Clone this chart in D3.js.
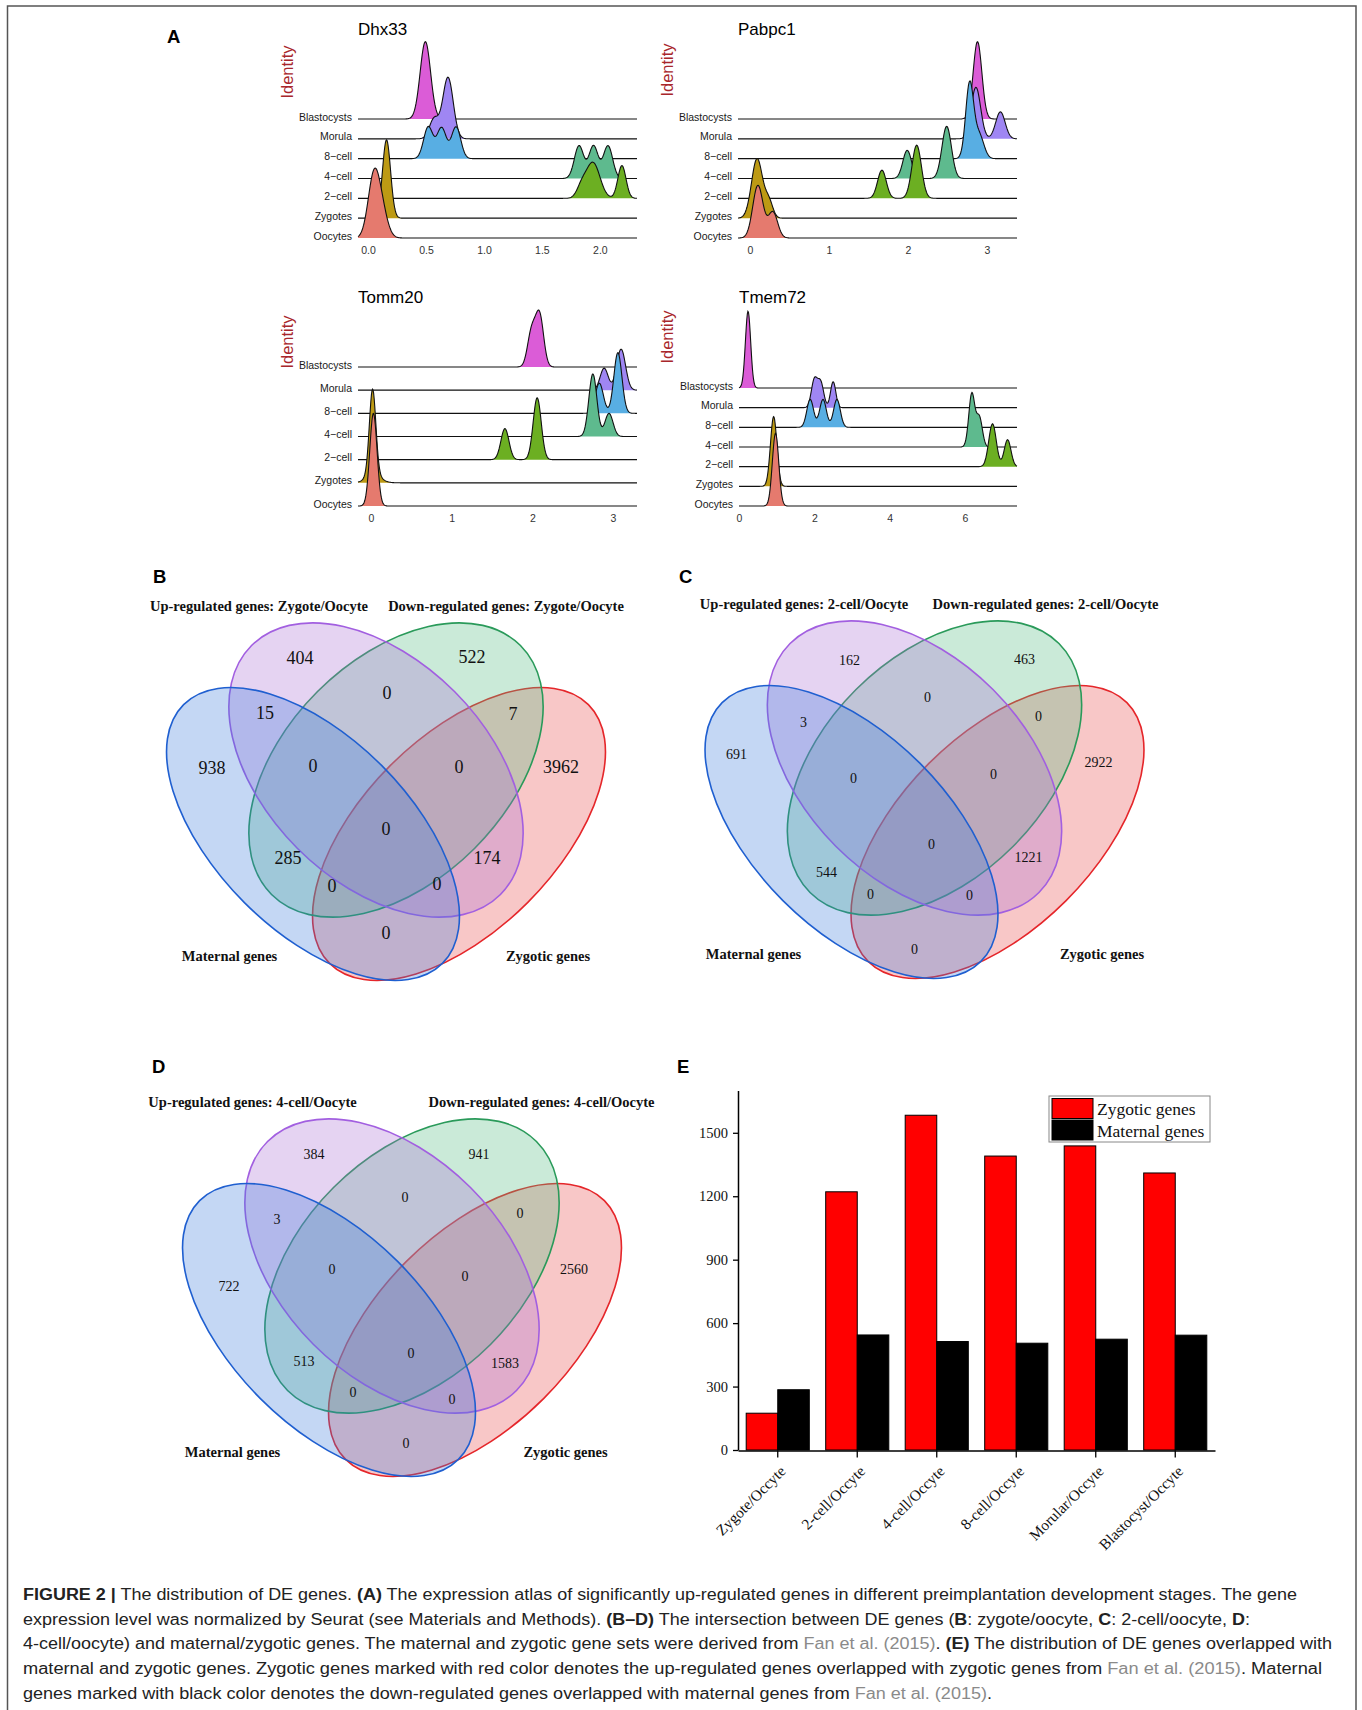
<!DOCTYPE html>
<html>
<head>
<meta charset="utf-8">
<script src="https://cdn.jsdelivr.net/npm/d3@7"></script>
<style>
  body { margin: 0; background: #fff; }
  svg { display: block; }
</style>
</head>
<body>
<div id="fig"></div>
<script>
// ---------- data ----------
var stages = ["Oocytes", "Zygotes", "2\u2212cell", "4\u2212cell", "8\u2212cell", "Morula", "Blastocysts"];
var stageColors = ["#E57A6E", "#BD9A14", "#6CAF22", "#5EBA8E", "#58AEE3", "#9F86F3", "#DB5CD7"];

// ridge peaks per stage: [expression, height (rows), spread]
var dhx33 = [
  [[0.05, 3.0, 0.05], [0.12, 1.2, 0.05]],
  [[0.16, 3.95, 0.035]],
  [[1.84, 0.5, 0.04], [1.94, 1.8, 0.06], [2.19, 1.65, 0.035]],
  [[1.82, 1.65, 0.04], [1.945, 1.65, 0.04], [2.07, 1.65, 0.04]],
  [[0.52, 1.6, 0.04], [0.635, 1.55, 0.04], [0.76, 1.6, 0.04]],
  [[0.57, 1.0, 0.04], [0.69, 3.1, 0.045]],
  [[0.495, 3.9, 0.045]]
];
var pabpc1 = [
  [[0.1, 2.65, 0.065], [0.29, 1.3, 0.06]],
  [[0.09, 3.0, 0.07], [0.24, 0.8, 0.05]],
  [[1.67, 1.42, 0.055], [2.11, 2.68, 0.06]],
  [[1.99, 1.42, 0.055], [2.49, 2.63, 0.06]],
  [[2.78, 3.75, 0.05], [2.9, 1.2, 0.06]],
  [[2.86, 2.6, 0.06], [3.17, 1.36, 0.06]],
  [[2.88, 3.9, 0.055]]
];
var tomm20 = [
  [[0.03, 4.0, 0.045]],
  [[0.02, 3.7, 0.04], [0.03, 0.35, 0.09]],
  [[1.66, 1.34, 0.05], [2.06, 2.67, 0.05]],
  [[2.75, 2.7, 0.05], [2.95, 1.0, 0.05]],
  [[2.83, 1.3, 0.05], [3.06, 2.62, 0.05]],
  [[2.89, 0.95, 0.05], [3.1, 1.77, 0.055]],
  [[1.99, 1.5, 0.05], [2.09, 2.2, 0.05]]
];
var tmem72 = [
  [[0.97, 3.7, 0.085]],
  [[0.92, 3.55, 0.085]],
  [[6.73, 2.18, 0.1], [7.13, 1.37, 0.09]],
  [[6.18, 2.7, 0.08], [6.38, 1.5, 0.08]],
  [[1.89, 1.42, 0.09], [2.23, 1.42, 0.09], [2.6, 1.42, 0.09]],
  [[2.0, 1.4, 0.08], [2.17, 1.25, 0.08], [2.5, 1.32, 0.07]],
  [[0.24, 3.9, 0.07]]
];
var dhx33Ticks = [0, 0.5, 1, 1.5, 2];
var pabpc1Ticks = [0, 1, 2, 3];
var tomm20Ticks = [0, 1, 2, 3];
var tmem72Ticks = [0, 2, 4, 6];

// venn regions: M maternal, U up-regulated, D down-regulated, Z zygotic
var regionKeys = ["U", "D", "UD", "MU", "DZ", "M", "MUD", "UDZ", "Z", "MUDZ", "MD", "UZ", "MDZ", "MUZ", "MZ"];
var vennB = [404, 522, 0, 15, 7, 938, 0, 0, 3962, 0, 285, 174, 0, 0, 0];
var vennC = [162, 463, 0, 3, 0, 691, 0, 0, 2922, 0, 544, 1221, 0, 0, 0];
var vennD = [384, 941, 0, 3, 0, 722, 0, 0, 2560, 0, 513, 1583, 0, 0, 0];
var vennPairs = ["Zygote/Oocyte", "2-cell/Oocyte", "4-cell/Oocyte"];

// bar chart
var barCats = ["Zygote/Occyte", "2-cell/Occyte", "4-cell/Occyte", "8-cell/Occyte", "Morular/Occyte", "Blastocyst/Occyte"];
var zygoticVals = [174, 1221, 1583, 1390, 1438, 1310];
var maternalVals = [285, 544, 513, 505, 524, 543];
var barTicks = [0, 300, 600, 900, 1200, 1500];
var barSeries = ["Zygotic genes", "Maternal genes"];

// ---------- page ----------
var W = 1362, H = 1710;
var sans = "'Liberation Sans', Arial, Helvetica, sans-serif";
var serif = "'Liberation Serif', 'Times New Roman', Times, serif";

var svg = d3.select("#fig").append("svg")
    .attr("width", W)
    .attr("height", H);

svg.append("rect").attr("width", W).attr("height", H).attr("fill", "#fff");
svg.append("path")
    .attr("d", "M7.5,1715V6H1356V1715")
    .attr("fill", "none")
    .attr("stroke", "#555")
    .attr("stroke-width", 1.5);

function panelLetter(t, x, y) {
  svg.append("text")
      .attr("x", x).attr("y", y)
      .attr("font-family", sans)
      .attr("font-weight", "bold")
      .attr("font-size", 18.5)
      .text(t);
}
panelLetter("A", 167, 43);
panelLetter("B", 153, 583);
panelLetter("C", 679, 583);
panelLetter("D", 152, 1073);
panelLetter("E", 677, 1073);

// ---------- A: ridge plots ----------
var ridges = [
  {gene: "Dhx33", peaks: dhx33, ticks: dhx33Ticks, fmt: d3.format(".1f"), domain: [-0.086, 2.32], x: [358, 637], rows: [238, 119], tickY: 254, titleY: 35, identX: 287, identY: 72},
  {gene: "Pabpc1", peaks: pabpc1, ticks: pabpc1Ticks, fmt: d3.format("d"), domain: [-0.152, 3.38], x: [738, 1017], rows: [238, 119], tickY: 254, titleY: 35, identX: 667, identY: 70},
  {gene: "Tomm20", peaks: tomm20, ticks: tomm20Ticks, fmt: d3.format("d"), domain: [-0.161, 3.297], x: [358, 637], rows: [506, 367], tickY: 522, titleY: 303, identX: 287, identY: 342},
  {gene: "Tmem72", peaks: tmem72, ticks: tmem72Ticks, fmt: d3.format("d"), domain: [0, 7.38], x: [739, 1017], rows: [506, 388], tickY: 522, titleY: 303, identX: 667, identY: 337}
];

function density(peaks, v) {
  return d3.sum(peaks, function(p) {
    return p[1] * Math.exp(-((v - p[0]) * (v - p[0])) / (2 * p[2] * p[2]));
  });
}

ridges.forEach(function(r) {
  var g = svg.append("g");
  var x = d3.scaleLinear().domain(r.domain).range(r.x);
  var row = d3.scalePoint().domain(stages).range(r.rows);
  var spacing = (r.rows[0] - r.rows[1]) / (stages.length - 1);
  var h = d3.scaleLinear().domain([0, 1]).range([0, spacing]);
  var grid = d3.range(0, 501).map(function(i) {
    return r.domain[0] + (r.domain[1] - r.domain[0]) * i / 500;
  });

  // top row first so lower rows sit in front
  stages.slice().reverse().forEach(function(s) {
    var idx = stages.indexOf(s);
    var base = row(s);
    var pts = grid.map(function(v) { return [v, density(r.peaks[idx], v)]; });
    g.append("path")
        .datum(pts)
        .attr("fill", stageColors[idx])
        .attr("d", d3.area()
          .x(function(d) { return x(d[0]); })
          .y0(base)
          .y1(function(d) { return base - h(d[1]); }));
    g.append("path")
        .datum(pts)
        .attr("fill", "none")
        .attr("stroke", "#111")
        .attr("stroke-width", 1.1)
        .attr("d", d3.line()
          .x(function(d) { return x(d[0]); })
          .y(function(d) { return base - h(d[1]); }));
  });

  g.selectAll(".ylab")
    .data(stages)
    .enter().append("text")
      .attr("x", r.x[0] - 6)
      .attr("y", function(d) { return row(d) + 1.5; })
      .attr("text-anchor", "end")
      .attr("font-family", sans)
      .attr("font-size", 10.5)
      .attr("fill", "#1a1a1a")
      .text(function(d) { return d; });

  var ax = g.append("g")
      .attr("transform", "translate(0," + (r.tickY - 8) + ")")
      .call(d3.axisBottom(x).tickValues(r.ticks).tickFormat(r.fmt).tickSize(0).tickPadding(0));
  ax.select(".domain").remove();
  ax.selectAll("text")
      .attr("y", 8)
      .attr("dy", 0)
      .attr("font-family", sans)
      .attr("font-size", 10.5)
      .attr("fill", "#333");

  g.append("text")
      .attr("x", r.x[0])
      .attr("y", r.titleY)
      .attr("font-family", sans)
      .attr("font-size", 17)
      .text(r.gene);

  g.append("text")
      .attr("transform", "translate(" + r.identX + "," + r.identY + ") rotate(-90)")
      .attr("dy", "0.35em")
      .attr("text-anchor", "middle")
      .attr("font-family", sans)
      .attr("font-size", 16.5)
      .attr("fill", "#A8262B")
      .text("Identity");
});

// ---------- B-D: venn diagrams ----------
// red first, blue last: the centre reads bluish grey in the original
var setOrder = ["Z", "D", "U", "M"];
var ellipseShape = {
  M: {dx: -73, dy: 0, rx: 183, ry: 97, rot: 45, fill: "#3D7CDC", stroke: "#1F5FD0"},
  U: {dx: -10, dy: -64, rx: 176, ry: 111, rot: 45, fill: "#AA6ED4", stroke: "#A25FE0"},
  D: {dx: 10, dy: -64, rx: 176, ry: 111, rot: -45, fill: "#50B97D", stroke: "#2A9A5A"},
  Z: {dx: 73, dy: 0, rx: 183, ry: 97, rot: -45, fill: "#E84444", stroke: "#E5262A"}
};

var labelPosB = [[-86,-176],[86,-177],[1,-141],[-121,-121],[127,-120],[-174,-66],[-73,-68],[73,-67],[175,-67],[0,-5],[-98,24],[101,24],[-54,52],[51,50],[0,99]];
var labelPosC = [[-75,-172],[100,-173],[3,-135],[-121,-110],[114,-116],[-188,-78],[-71,-54],[69,-58],[174,-70],[7,12],[-98,40],[104,25],[-54,62],[45,63],[-10,117]];
var labelPosD = [[-88,-176],[77,-176],[3,-133],[-125,-111],[118,-117],[-173,-44],[-70,-61],[63,-54],[172,-61],[9,23],[-98,31],[103,33],[-49,62],[50,69],[4,113]];

var vennPanels = [
  {counts: vennB, pair: vennPairs[0], cx: 386, cy: 834, fs: 18, pos: labelPosB, titleDx: [-127, 120], footDx: [-156.5, 162]},
  {counts: vennC, pair: vennPairs[1], cx: 924.5, cy: 832, fs: 14, pos: labelPosC, titleDx: [-120.5, 121], footDx: [-171, 177.5]},
  {counts: vennD, pair: vennPairs[2], cx: 402, cy: 1330, fs: 14, pos: labelPosD, titleDx: [-149.5, 139.5], footDx: [-169.5, 163.5]}
];

vennPanels.forEach(function(p) {
  var g = svg.append("g").attr("transform", "translate(" + p.cx + "," + p.cy + ")");

  g.selectAll("ellipse")
    .data(setOrder)
    .enter().append("ellipse")
      .attr("transform", function(k) {
        var e = ellipseShape[k];
        return "translate(" + e.dx + "," + e.dy + ") rotate(" + e.rot + ")";
      })
      .attr("rx", function(k) { return ellipseShape[k].rx; })
      .attr("ry", function(k) { return ellipseShape[k].ry; })
      .attr("fill", function(k) { return ellipseShape[k].fill; })
      .attr("fill-opacity", 0.3)
      .attr("stroke", function(k) { return ellipseShape[k].stroke; })
      .attr("stroke-width", 1.6);

  g.selectAll(".count")
    .data(regionKeys)
    .enter().append("text")
      .attr("x", function(d, i) { return p.pos[i][0]; })
      .attr("y", function(d, i) { return p.pos[i][1]; })
      .attr("dy", "0.35em")
      .attr("text-anchor", "middle")
      .attr("font-family", serif)
      .attr("font-size", p.fs)
      .attr("fill", "#111")
      .text(function(d, i) { return p.counts[i]; });

  var names = [
    ["Up-regulated genes: " + p.pair, p.titleDx[0], -228],
    ["Down-regulated genes: " + p.pair, p.titleDx[1], -228],
    ["Maternal genes", p.footDx[0], 122],
    ["Zygotic genes", p.footDx[1], 122]
  ];
  g.selectAll(".setname")
    .data(names)
    .enter().append("text")
      .attr("x", function(d) { return d[1]; })
      .attr("y", function(d) { return d[2]; })
      .attr("dy", "0.35em")
      .attr("text-anchor", "middle")
      .attr("font-family", serif)
      .attr("font-weight", "bold")
      .attr("font-size", 14.5)
      .attr("fill", "#111")
      .text(function(d) { return d[0]; });
});

// ---------- E: bar chart ----------
var xE = d3.scaleBand().domain(barCats).range([738, 1215]);
var sub = d3.scaleBand().domain(barSeries).range([0, xE.bandwidth()]).paddingOuter(0.26);
var yE = d3.scaleLinear().domain([0, 1700]).range([1450, 1090.5]);
var barColors = {"Zygotic genes": "#FF0000", "Maternal genes": "#000000"};

var barRows = barCats.map(function(c, i) {
  return {cat: c, values: [{s: barSeries[0], v: zygoticVals[i]}, {s: barSeries[1], v: maternalVals[i]}]};
});

var gE = svg.append("g");
gE.selectAll(".grp")
  .data(barRows)
  .enter().append("g")
    .attr("transform", function(d) { return "translate(" + xE(d.cat) + ",0)"; })
  .selectAll("rect")
  .data(function(d) { return d.values; })
  .enter().append("rect")
    .attr("x", function(d) { return sub(d.s); })
    .attr("width", sub.bandwidth())
    .attr("y", function(d) { return yE(d.v); })
    .attr("height", function(d) { return yE(0) - yE(d.v); })
    .attr("fill", function(d) { return barColors[d.s]; })
    .attr("stroke", "#000")
    .attr("stroke-width", 1);

var yAx = gE.append("g")
    .attr("transform", "translate(738,0)")
    .call(d3.axisLeft(yE).tickValues(barTicks).tickFormat(d3.format("d")).tickSize(5).tickPadding(5).tickSizeOuter(0));
yAx.select(".domain").attr("stroke-width", 1.5);
yAx.selectAll("line").attr("stroke-width", 1.3);
yAx.selectAll("text").attr("font-family", serif).attr("font-size", 14.5).attr("fill", "#111");

var xAx = gE.append("g")
    .attr("transform", "translate(0,1450.5)")
    .call(d3.axisBottom(xE).tickSize(7).tickSizeOuter(0));
xAx.select(".domain").attr("stroke-width", 1.5);
xAx.selectAll("line").attr("stroke-width", 1.3);
xAx.selectAll("text")
    .attr("x", 0).attr("y", 0).attr("dy", "0.35em")
    .attr("transform", "translate(5,18) rotate(-45)")
    .attr("text-anchor", "end")
    .attr("font-family", serif)
    .attr("font-size", 15.3)
    .attr("fill", "#111");

var legend = gE.append("g").attr("transform", "translate(1049,1096)");
legend.append("rect")
    .attr("width", 161).attr("height", 46)
    .attr("fill", "#fff").attr("stroke", "#888").attr("stroke-width", 1);
legend.selectAll(".sw")
  .data(barSeries)
  .enter().append("rect")
    .attr("x", 3)
    .attr("y", function(d, i) { return 2.5 + i * 21.5; })
    .attr("width", 41).attr("height", 20)
    .attr("fill", function(d) { return barColors[d]; })
    .attr("stroke", "#000");
legend.selectAll(".lt")
  .data(barSeries)
  .enter().append("text")
    .attr("x", 48)
    .attr("y", function(d, i) { return 12.5 + i * 22.5; })
    .attr("dy", "0.35em")
    .attr("font-family", serif)
    .attr("font-size", 17.5)
    .attr("fill", "#111")
    .text(function(d) { return d; });

// ---------- caption ----------
var capLines = [
  [["FIGURE 2 |", "b"], [" The distribution of DE genes. ", ""], ["(A)", "b"], [" The expression atlas of significantly up-regulated genes in different preimplantation development stages. The gene", ""]],
  [["expression level was normalized by Seurat (see Materials and Methods). ", ""], ["(B\u2013D)", "b"], [" The intersection between DE genes (", ""], ["B", "b"], [": zygote/oocyte, ", ""], ["C", "b"], [": 2-cell/oocyte, ", ""], ["D", "b"], [":", ""]],
  [["4-cell/oocyte) and maternal/zygotic genes. The maternal and zygotic gene sets were derived from ", ""], ["Fan et al. (2015)", "g"], [". ", ""], ["(E)", "b"], [" The distribution of DE genes overlapped with", ""]],
  [["maternal and zygotic genes. Zygotic genes marked with red color denotes the up-regulated genes overlapped with zygotic genes from ", ""], ["Fan et al. (2015)", "g"], [". Maternal", ""]],
  [["genes marked with black color denotes the down-regulated genes overlapped with maternal genes from ", ""], ["Fan et al. (2015)", "g"], [".", ""]]
];
var capEnds = [1297, 1250, 1332, 1322, 992];

capLines.forEach(function(line, i) {
  var t = svg.append("text")
      .attr("x", 23)
      .attr("y", 1600 + i * 24.7)
      .attr("font-family", sans)
      .attr("font-size", 16)
      .attr("fill", "#222")
      .attr("textLength", capEnds[i] - 23)
      .attr("lengthAdjust", "spacingAndGlyphs");
  line.forEach(function(seg) {
    t.append("tspan")
        .attr("font-weight", seg[1] === "b" ? "bold" : null)
        .attr("fill", seg[1] === "g" ? "#8a8a8a" : null)
        .text(seg[0]);
  });
});
</script>
</body>
</html>
